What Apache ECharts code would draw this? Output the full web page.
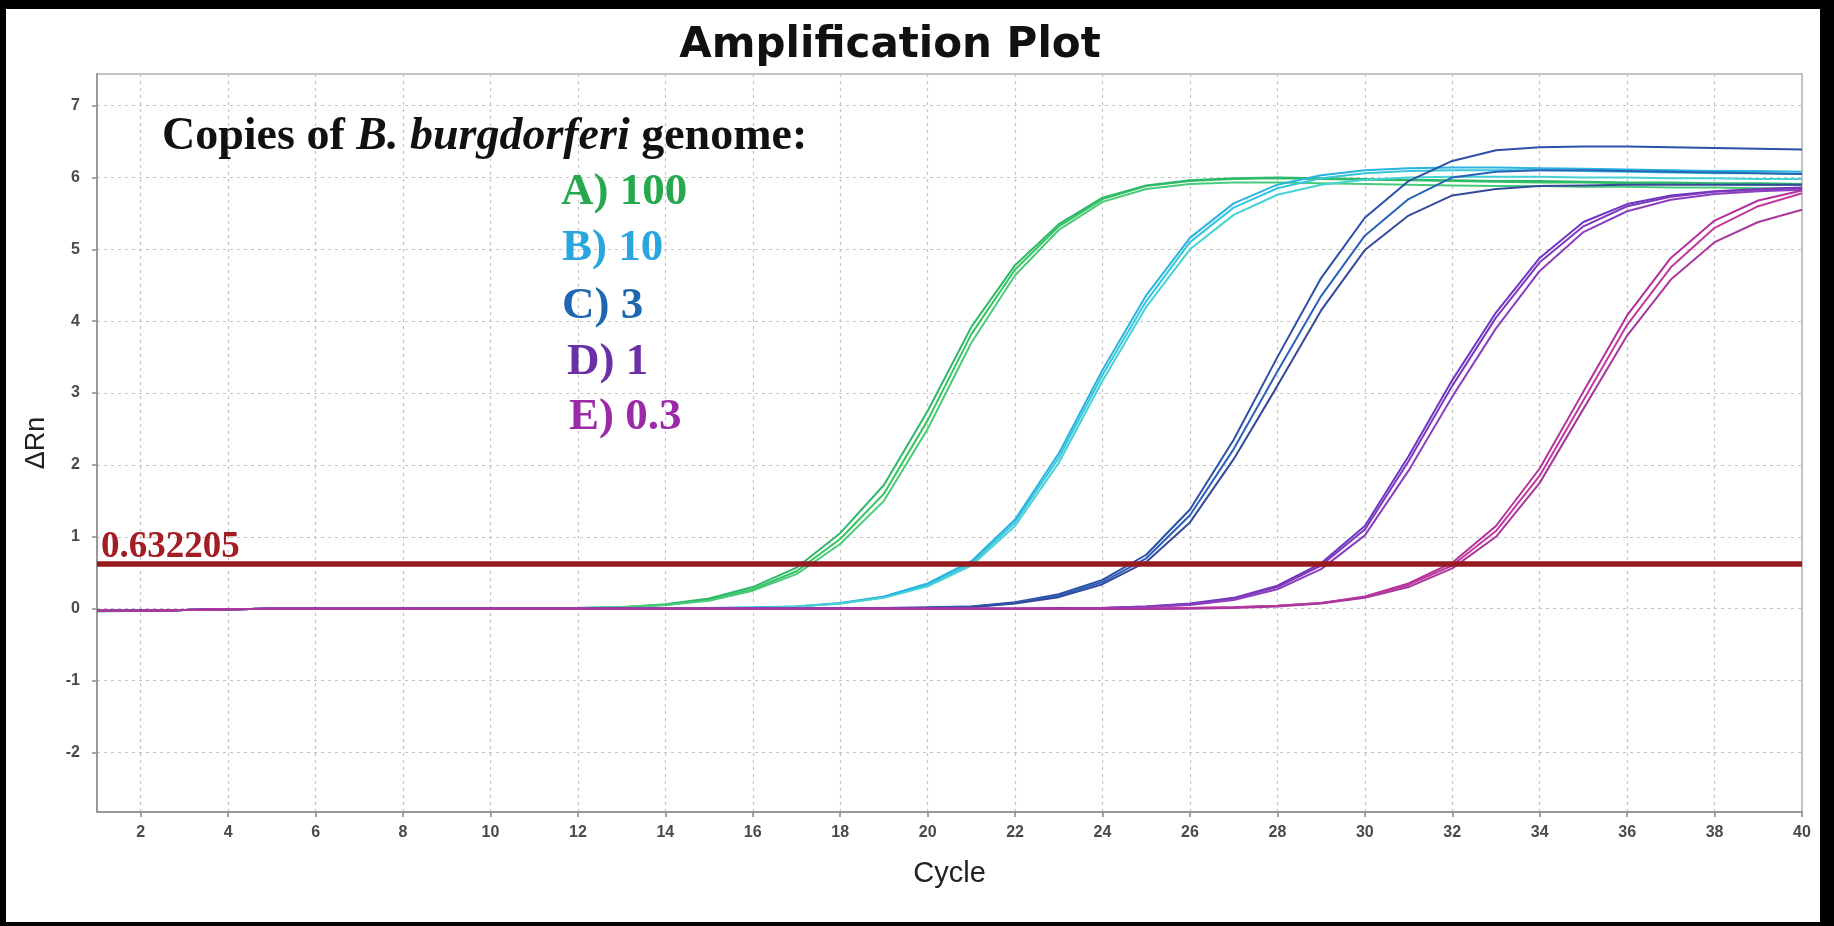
<!DOCTYPE html>
<html>
<head>
<meta charset="utf-8">
<script src="https://cdn.jsdelivr.net/npm/echarts@6/dist/echarts.min.js"></script>
<style>
html,body{margin:0;padding:0;background:#fff;}
#chart{position:absolute;left:0;top:0;width:1834px;height:926px;}
#frame{position:absolute;left:0;top:0;width:1834px;height:926px;box-sizing:border-box;border-style:solid;border-color:#000;border-width:9px 14px 4px 6px;pointer-events:none;}
</style>
</head>
<body>
<div id="chart"></div>
<div id="frame"></div>
<script>
// ---- data ----
const cycles = [1,2,3,4,5,6,7,8,9,10,11,12,13,14,15,16,17,18,19,20,21,22,23,24,25,26,27,28,29,30,31,32,33,34,35,36,37,38,39,40];
const xTickValues = [2,4,6,8,10,12,14,16,18,20,22,24,26,28,30,32,34,36,38,40];
const yTickValues = [-2,-1,0,1,2,3,4,5,6,7];
const thresholdValue = 0.632205;
const thresholdLabel = '0.632205';
const chartTitle = 'Amplification Plot';
const xAxisName = 'Cycle';
const yAxisName = 'ΔRn';
const groupLabels = ['A) 100', 'B) 10', 'C) 3', 'D) 1', 'E) 0.3'];

// Group A (100 copies)
const seriesA1 = [-0.03,-0.03,-0.02,-0.01,0,0,0,0,0.01,0.01, 0.01,0.01,0.02,0.05,0.12,0.27,0.52,0.97,1.6,2.62, 3.82,4.72,5.32,5.7,5.88,5.95,5.98,5.99,5.98,5.97, 5.96,5.95,5.94,5.93,5.93,5.92,5.92,5.91,5.9,5.9];
const seriesA2 = [-0.04,-0.03,-0.02,-0.01,0,0,0,0,0.01,0.01, 0.01,0.01,0.02,0.06,0.14,0.3,0.57,1.05,1.72,2.75, 3.92,4.78,5.35,5.72,5.89,5.96,5.99,6.0,5.99,5.98, 5.97,5.96,5.95,5.95,5.94,5.93,5.93,5.92,5.92,5.91];
const seriesA3 = [-0.03,-0.02,-0.02,-0.01,0,0,0,0,0,0.01, 0.01,0.01,0.02,0.05,0.11,0.25,0.48,0.9,1.5,2.5, 3.7,4.64,5.27,5.66,5.84,5.91,5.93,5.93,5.92,5.91, 5.9,5.89,5.88,5.88,5.87,5.87,5.86,5.86,5.85,5.85];
// Group B (10 copies)
const seriesB1 = [-0.03,-0.03,-0.02,-0.01,0,0,0,0,0,0, 0,0,0.01,0.01,0.01,0.01,0.03,0.07,0.16,0.33, 0.63,1.2,2.1,3.25,4.28,5.1,5.58,5.85,5.99,6.06, 6.09,6.1,6.1,6.1,6.09,6.08,6.07,6.06,6.06,6.05];
const seriesB2 = [-0.03,-0.03,-0.02,-0.01,0,0,0,0,0,0, 0,0,0.01,0.01,0.01,0.02,0.03,0.08,0.17,0.35, 0.66,1.24,2.16,3.32,4.36,5.16,5.64,5.9,6.03,6.1, 6.13,6.14,6.14,6.13,6.12,6.11,6.1,6.09,6.09,6.08];
const seriesB3 = [-0.03,-0.03,-0.02,-0.01,0,0,0,0,0,0, 0,0,0,0.01,0.01,0.01,0.03,0.07,0.15,0.31, 0.6,1.15,2.03,3.17,4.2,5.0,5.48,5.76,5.9,5.97, 6.0,6.01,6.01,6.01,6.0,6.0,5.99,5.99,5.98,5.98];
// Group C (3 copies)
const seriesC1 = [-0.03,-0.03,-0.02,-0.01,0,0,0,0,0,0, 0,0,0,0,0,0,0,0.01,0.01,0.02, 0.03,0.09,0.2,0.4,0.75,1.38,2.35,3.5,4.6,5.44, 5.95,6.23,6.38,6.42,6.43,6.43,6.42,6.41,6.4,6.39];
const seriesC2 = [-0.03,-0.03,-0.02,-0.01,0,0,0,0,0,0, 0,0,0,0,0,0,0,0.01,0.01,0.01, 0.03,0.08,0.18,0.37,0.7,1.3,2.22,3.3,4.35,5.19, 5.7,6.0,6.08,6.1,6.1,6.09,6.08,6.07,6.06,6.05];
const seriesC3 = [-0.03,-0.03,-0.02,-0.01,0,0,0,0,0,0, 0,0,0,0,0,0,0,0,0.01,0.01, 0.02,0.07,0.16,0.34,0.65,1.2,2.08,3.1,4.15,4.99, 5.47,5.75,5.84,5.88,5.89,5.9,5.9,5.9,5.9,5.9];
// Group D (1 copy)
const seriesD1 = [-0.03,-0.03,-0.02,-0.01,0,0,0,0,0,0, 0,0,0,0,0,0,0,0,0,0, 0,0,0.01,0.01,0.03,0.07,0.15,0.32,0.63,1.15, 2.12,3.18,4.12,4.88,5.38,5.63,5.75,5.81,5.84,5.86];
const seriesD2 = [-0.03,-0.03,-0.02,-0.01,0,0,0,0,0,0, 0,0,0,0,0,0,0,0,0,0, 0,0,0,0.01,0.03,0.06,0.14,0.3,0.6,1.1, 2.05,3.1,4.05,4.82,5.32,5.6,5.73,5.8,5.83,5.85];
const seriesD3 = [-0.03,-0.03,-0.02,-0.01,0,0,0,0,0,0, 0,0,0,0,0,0,0,0,0,0, 0,0,0,0.01,0.02,0.05,0.12,0.27,0.55,1.02, 1.92,2.95,3.9,4.7,5.24,5.53,5.69,5.77,5.81,5.83];
// Group E (0.3 copies)
const seriesE1 = [-0.03,-0.03,-0.02,-0.01,0,0,0,0,0,0, 0,0,0,0,0,0,0,0,0,0, 0,0,0,0,0,0.01,0.02,0.04,0.08,0.17, 0.35,0.64,1.15,1.95,3.02,4.08,4.88,5.4,5.68,5.82];
const seriesE2 = [-0.03,-0.03,-0.02,-0.01,0,0,0,0,0,0, 0,0,0,0,0,0,0,0,0,0, 0,0,0,0,0,0.01,0.02,0.04,0.08,0.16, 0.33,0.6,1.08,1.85,2.9,3.95,4.75,5.3,5.6,5.78];
const seriesE3 = [-0.03,-0.03,-0.02,-0.01,0,0,0,0,0,0, 0,0,0,0,0,0,0,0,0,0, 0,0,0,0,0,0,0.01,0.03,0.07,0.15, 0.3,0.56,1.0,1.75,2.78,3.8,4.58,5.1,5.38,5.55];

// ---- styling ----
const groupSeries = [
  [seriesA1, seriesA2, seriesA3],
  [seriesB1, seriesB2, seriesB3],
  [seriesC1, seriesC2, seriesC3],
  [seriesD1, seriesD2, seriesD3],
  [seriesE1, seriesE2, seriesE3]
];
const lineColors = [
  ['#36c45c', '#2db86c', '#48cc7a'],
  ['#37c6dc', '#2ab3e0', '#46d2d4'],
  ['#2c4fa8', '#2a62b8', '#364a9c'],
  ['#6f35c4', '#7d3ab8', '#8c3fc0'],
  ['#b3309d', '#c03a9e', '#a8389e']
];
const labelColors = ['#26a84e', '#2aa6de', '#1f66b0', '#6b2fa8', '#9c2aa8'];
const labelPos = [[561, 192], [562, 248], [562, 306], [567, 362], [569, 417]];

const series = [];
groupSeries.forEach((grp, gi) => {
  grp.forEach((vals, ri) => {
    series.push({
      type: 'line',
      name: groupLabels[gi] + ' #' + (ri + 1),
      data: cycles.map((c, i) => [c, vals[i]]),
      symbol: 'none',
      showSymbol: false,
      smooth: false,
      clip: true,
      lineStyle: { width: 2, color: lineColors[gi][ri] },
      z: 2
    });
  });
});
series.push({
  type: 'line',
  name: 'threshold',
  data: [],
  markLine: {
    silent: true,
    symbol: 'none',
    z: 10,
    lineStyle: { color: '#971a1f', width: 5.5, type: 'solid' },
    label: {
      show: true,
      position: 'insideStartTop',
      distance: [4, -3],
      formatter: thresholdLabel,
      color: '#a51d24',
      fontFamily: '"Liberation Serif", "Times New Roman", serif',
      fontWeight: 'bold',
      fontSize: 37
    },
    data: [{ yAxis: thresholdValue }]
  }
});

const graphics = [
  {
    type: 'text', x: 890, y: 46, z: 20,
    style: {
      text: chartTitle,
      font: 'bold 42px "DejaVu Sans", Verdana, sans-serif',
      fill: '#111',
      align: 'center', verticalAlign: 'middle',
      textAlign: 'center', textVerticalAlign: 'middle'
    }
  },
  {
    type: 'text', x: 162, y: 137, z: 20,
    style: {
      text: '{n|Copies of }{i|B. burgdorferi}{n| genome:}',
      align: 'left', verticalAlign: 'middle',
      textAlign: 'left', textVerticalAlign: 'middle',
      rich: {
        n: { fontFamily: '"Liberation Serif", serif', fontWeight: 'bold', fontSize: 46, fill: '#111', color: '#111' },
        i: { fontFamily: '"Liberation Serif", serif', fontWeight: 'bold', fontStyle: 'italic', fontSize: 46, fill: '#111', color: '#111' }
      }
    }
  }
];
groupLabels.forEach((t, i) => {
  graphics.push({
    type: 'text', x: labelPos[i][0], y: labelPos[i][1], z: 20,
    style: {
      text: t,
      font: 'bold 45px "Liberation Serif", serif',
      fill: labelColors[i],
      align: 'left', verticalAlign: 'middle',
      textAlign: 'left', textVerticalAlign: 'middle'
    }
  });
});

const chart = echarts.init(document.getElementById('chart'), null, { renderer: 'canvas' });
const splitStyle = { show: true, lineStyle: { color: '#c4c4c4', width: 1.2, type: [3, 4] } };
const tickFont = { fontFamily: '"Liberation Sans", Arial, sans-serif', fontSize: 16, fontWeight: 'bold', color: '#4a4a4a' };
chart.setOption({
  animation: false,
  backgroundColor: '#ffffff',
  grid: {
    left: 97, right: 32, top: 74, bottom: 114,
    show: true, borderColor: '#b0b0b0', borderWidth: 1.5, backgroundColor: '#fff'
  },
  xAxis: {
    type: 'value',
    min: 1, max: 40,
    name: xAxisName,
    nameLocation: 'middle',
    nameGap: 47,
    nameTextStyle: { fontFamily: '"Liberation Sans", Arial, sans-serif', fontSize: 29, color: '#222' },
    axisLine: { show: true, onZero: false, lineStyle: { color: '#999', width: 2 } },
    axisTick: { show: true, length: 5, inside: false, customValues: xTickValues, lineStyle: { color: '#888', width: 1.5 } },
    axisLabel: Object.assign({ customValues: xTickValues, margin: 13 }, tickFont),
    splitLine: splitStyle
  },
  yAxis: {
    type: 'value',
    min: -2.83, max: 7.44,
    name: yAxisName,
    nameLocation: 'middle',
    nameGap: 47,
    nameRotate: 90,
    nameTextStyle: { fontFamily: '"Liberation Sans", Arial, sans-serif', fontSize: 27, color: '#222' },
    axisLine: { show: true, onZero: false, lineStyle: { color: '#999', width: 2 } },
    axisTick: { show: true, length: 5, inside: false, customValues: yTickValues, lineStyle: { color: '#888', width: 1.5 } },
    axisLabel: Object.assign({ customValues: yTickValues, margin: 17 }, tickFont),
    splitLine: splitStyle
  },
  series: series,
  graphic: graphics
});
</script>
</body>
</html>
